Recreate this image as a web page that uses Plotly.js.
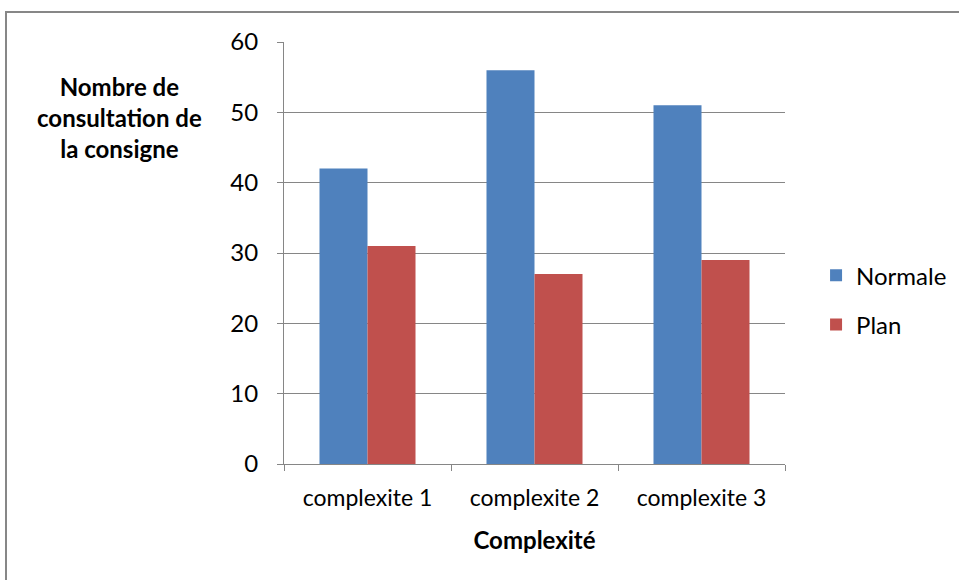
<!DOCTYPE html>
<html><head><meta charset="utf-8">
<script src="https://cdn.plot.ly/plotly-3.0.1.min.js"></script>
<style>body{margin:0;background:#fff;}#frame{position:absolute;left:5px;top:11px;width:980px;height:600px;border:2px solid #878787;pointer-events:none;}</style>
</head><body>
<div id="chart" style="width:959px;height:580px;position:absolute;left:0;top:0;"></div>
<div id="frame"></div>
<script>
const categories = ["complexite 1", "complexite 2", "complexite 3"];
const normale = [42, 56, 51];
const plan = [31, 27, 29];
const seriesNames = ["Normale", "Plan"];
const yTickVals = [0, 10, 20, 30, 40, 50, 60];

const fam = "Lato, Carlito, Calibri, sans-serif";
const data = [
  {type: "bar", name: seriesNames[0], legendgroup: "a", x: categories, y: normale, marker: {color: "#4f81bd"}},
  {type: "bar", name: seriesNames[1], legendgroup: "b", x: categories, y: plan, marker: {color: "#c0504d"}}
];
const layout = {
  width: 959, height: 580,
  margin: {l: 284, r: 174, t: 42, b: 116, autoexpand: false},
  paper_bgcolor: "#fff", plot_bgcolor: "#fff",
  font: {family: fam, size: 24, color: "#000"},
  barmode: "group", bargap: 0.425, bargroupgap: 0,
  showlegend: true,
  legend: {x: 1.062, y: 0.388, xanchor: "left", yanchor: "middle", font: {family: fam, size: 24}, tracegroupgap: 15, itemwidth: 30},
  xaxis: {
    showline: true, linecolor: "#868686", linewidth: 1,
    ticks: "outside", ticklen: 6, tickcolor: "#868686",
    tickson: "boundaries",
    ticklabelstandoff: 13,
    tickfont: {family: fam, size: 23},
    title: {text: "<b>Complexité</b>", font: {family: fam, size: 24}, standoff: 22}
  },
  yaxis: {
    range: [0, 60], tickvals: yTickVals,
    showline: true, linecolor: "#868686", linewidth: 1,
    ticks: "outside", ticklen: 6, tickcolor: "#868686",
    showgrid: true, gridcolor: "#868686", gridwidth: 1,
    zeroline: false,
    ticklabelstandoff: 14,
    tickfont: {family: fam, size: 24}
  },
  annotations: [{
    text: "<b>Nombre de<br>consultation de<br>la consigne</b>",
    xref: "paper", yref: "paper", x: (119 - 284) / 501, y: (464 - 118) / 422,
    xanchor: "center", yanchor: "middle", showarrow: false, align: "center",
    font: {family: fam, size: 24}
  }]
};
Plotly.newPlot("chart", data, layout, {displayModeBar: false, staticPlot: true});
</script>
</body></html>
